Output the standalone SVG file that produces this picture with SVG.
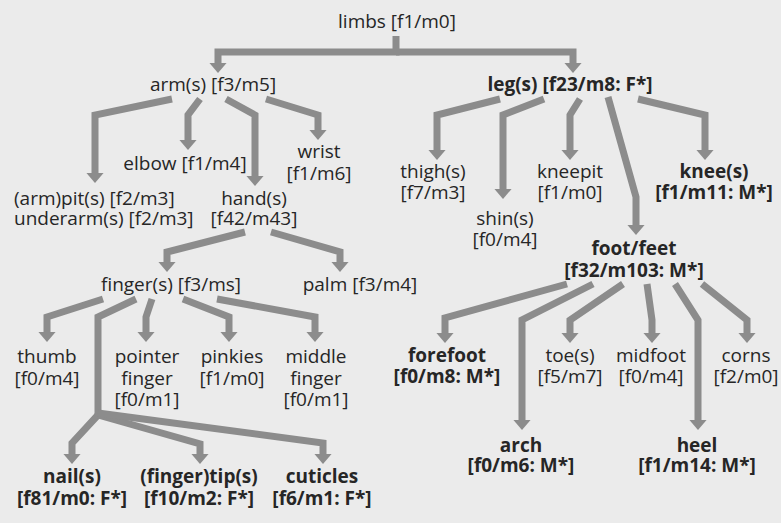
<svg xmlns="http://www.w3.org/2000/svg" width="781" height="523" viewBox="0 0 781 523">
<defs>
<marker id="ah" markerUnits="userSpaceOnUse" viewBox="0 0 11 18" refX="0.5" refY="9" markerWidth="11" markerHeight="18" orient="auto">
<path d="M0,0 L10.5,9 L0,18 Z" fill="#8c8c8c"/>
</marker>
<style>
text{font-family:"Open Sans","Noto Sans","Liberation Sans",sans-serif;font-size:19px;fill:#262626;text-anchor:middle}
.b{font-weight:bold}
.l{text-anchor:start}
.c path{fill:none;stroke:#8c8c8c;stroke-width:7;stroke-linejoin:miter;stroke-linecap:butt}
.c path.a{marker-end:url(#ah)}
</style>
</defs>
<rect x="0" y="0" width="781" height="523" fill="#ebebeb"/>
<g class="c" id="connectors">
<path class="a" d="M396,36 V52 H218 V63"/>
<path class="a" d="M396,52 H573 V63"/>
<path class="a" d="M172,99 L95,115 V173"/>
<path class="a" d="M200,99 L188,115 V140"/>
<path class="a" d="M226,99 L255,115 V176"/>
<path class="a" d="M266,99 L318,115 V130"/>
<path class="a" d="M245,232 L167,252 V262"/>
<path class="a" d="M271,232 L340,252 V262"/>
<path class="a" d="M103,299 L47,317 V332"/>
<path d="M136,299 L98,317 V416"/>
<path class="a" d="M152,299 L146,317 V332"/>
<path class="a" d="M183,299 L229,317 V332"/>
<path class="a" d="M217,299 L315,317 V332"/>
<path class="a" d="M98,415 L72,443 V454"/>
<path class="a" d="M98,415 L200,444 V454"/>
<path class="a" d="M98,413 L323,443 V454"/>
<path class="a" d="M500,99 L437,115 V150"/>
<path class="a" d="M544,99 L503,115 V189"/>
<path class="a" d="M580,99 L570,115 V150"/>
<path class="a" d="M608,97 L636,197 V225"/>
<path class="a" d="M638,99 L705,115 V150"/>
<path class="a" d="M567,284 L445,318 V333"/>
<path class="a" d="M593,284 L522,320 V420"/>
<path class="a" d="M623,284 L570,320 V333"/>
<path class="a" d="M647,284 L652,320 V333"/>
<path class="a" d="M675,284 L698,320 V420"/>
<path class="a" d="M702,284 L747,320 V333"/>
</g>
<g id="limbs"><text x="397" y="28">limbs [f1/m0]</text></g>
<g id="arm"><text x="213" y="91">arm(s) [f3/m5]</text></g>
<g id="leg"><text class="b" x="570" y="91">leg(s) [f23/m8: F*]</text></g>
<g id="pit"><text class="l" x="14" y="205">(arm)pit(s) [f2/m3]</text><text class="l" x="14" y="225">underarm(s) [f2/m3]</text></g>
<g id="elbow"><text x="185" y="170">elbow [f1/m4]</text></g>
<g id="hand"><text x="254" y="205">hand(s)</text><text x="254" y="225">[f42/m43]</text></g>
<g id="wrist"><text x="319" y="158">wrist</text><text x="319" y="180">[f1/m6]</text></g>
<g id="finger"><text x="171" y="291">finger(s) [f3/ms]</text></g>
<g id="palm"><text x="360" y="291">palm [f3/m4]</text></g>
<g id="thumb"><text x="47" y="363">thumb</text><text x="47" y="385">[f0/m4]</text></g>
<g id="pointer"><text x="147" y="363">pointer</text><text x="147" y="385">finger</text><text x="147" y="406">[f0/m1]</text></g>
<g id="pinkies"><text x="232" y="363">pinkies</text><text x="232" y="385">[f1/m0]</text></g>
<g id="middle"><text x="316" y="363">middle</text><text x="316" y="385">finger</text><text x="316" y="406">[f0/m1]</text></g>
<g id="nails"><text class="b" x="72" y="483">nail(s)</text><text class="b" x="72" y="505">[f81/m0: F*]</text></g>
<g id="tips"><text class="b" x="199" y="483">(finger)tip(s)</text><text class="b" x="199" y="505">[f10/m2: F*]</text></g>
<g id="cuticles"><text class="b" x="322" y="483">cuticles</text><text class="b" x="322" y="505">[f6/m1: F*]</text></g>
<g id="thigh"><text x="433" y="178">thigh(s)</text><text x="433" y="199">[f7/m3]</text></g>
<g id="shin"><text x="505" y="225">shin(s)</text><text x="505" y="246">[f0/m4]</text></g>
<g id="kneepit"><text x="570" y="178">kneepit</text><text x="570" y="199">[f1/m0]</text></g>
<g id="knee"><text class="b" x="714" y="178">knee(s)</text><text class="b" x="714" y="199">[f1/m11: M*]</text></g>
<g id="foot"><text class="b" x="634" y="255">foot/feet</text><text class="b" x="634" y="277">[f32/m103: M*]</text></g>
<g id="forefoot"><text class="b" x="447" y="362">forefoot</text><text class="b" x="447" y="383">[f0/m8: M*]</text></g>
<g id="toe"><text x="570" y="362">toe(s)</text><text x="570" y="383">[f5/m7]</text></g>
<g id="midfoot"><text x="651" y="362">midfoot</text><text x="651" y="383">[f0/m4]</text></g>
<g id="corns"><text x="746" y="362">corns</text><text x="746" y="383">[f2/m0]</text></g>
<g id="arch"><text class="b" x="521" y="452">arch</text><text class="b" x="521" y="472">[f0/m6: M*]</text></g>
<g id="heel"><text class="b" x="697" y="452">heel</text><text class="b" x="697" y="472">[f1/m14: M*]</text></g>
</svg>
